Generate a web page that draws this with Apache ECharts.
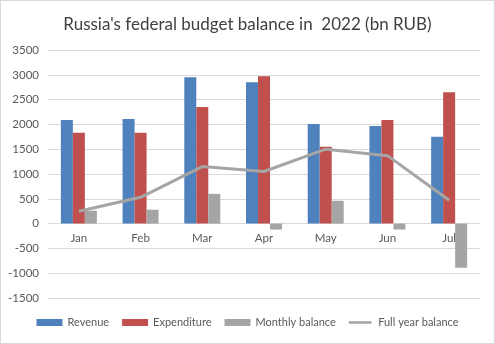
<!DOCTYPE html>
<html>
<head>
<meta charset="utf-8">
<script src="https://cdn.jsdelivr.net/npm/echarts@6/dist/echarts.min.js"></script>
<style>
  html, body { margin: 0; padding: 0; background: #fff; }
  #chart { width: 493px; height: 342px; border: 1px solid #d9d9d9; }
</style>
</head>
<body>
<div id="chart"></div>
<script>
// Russia's federal budget, monthly figures for 2022 (bn RUB)
const months = ['Jan', 'Feb', 'Mar', 'Apr', 'May', 'Jun', 'Jul'];
const revenue = [2090, 2110, 2950, 2850, 2010, 1970, 1750];
const expenditure = [1830, 1830, 2350, 2970, 1550, 2090, 2650];
const monthlyBalance = [260, 280, 600, -120, 460, -120, -890];
const fullYearBalance = [250, 530, 1150, 1050, 1500, 1370, 470];

const font = 'Lato, Open Sans, sans-serif';
const gridTop = 49, gridBottom = 45, chartHeight = 342;
const yMin = -1500, yMax = 3500;
// distance from the bottom of the grid up to the zero line
const zeroOffset = (chartHeight - gridTop - gridBottom) * (0 - yMin) / (yMax - yMin);

const chart = echarts.init(document.getElementById('chart'));
chart.setOption({
  animation: false,
  title: {
    text: "Russia's federal budget balance in  2022 (bn RUB)",
    left: 'center',
    top: 10,
    textStyle: { fontFamily: font, fontSize: 17, fontWeight: 'normal', color: '#404040' }
  },
  legend: {
    bottom: 10,
    left: 'center',
    itemGap: 13,
    itemWidth: 26,
    itemHeight: 7,
    textStyle: { fontFamily: font, fontSize: 11, color: '#595959' },
    data: [
      { name: 'Revenue', icon: 'rect' },
      { name: 'Expenditure', icon: 'rect' },
      { name: 'Monthly balance', icon: 'rect' },
      { name: 'Full year balance',
        icon: 'path://M0,0L0.01,0M0,2.5L26,2.5L26,5.5L0,5.5ZM0,8L0.01,8' }
    ]
  },
  grid: { left: 47, right: 14, top: gridTop, bottom: gridBottom },
  xAxis: {
    type: 'category',
    data: months,
    offset: -zeroOffset,
    axisLine: { onZero: false, lineStyle: { color: '#d9d9d9' } },
    axisTick: { show: false },
    axisLabel: { fontFamily: font, fontSize: 11.5, color: '#595959', margin: 9 }
  },
  yAxis: {
    type: 'value',
    min: yMin,
    max: yMax,
    interval: 500,
    axisLine: { show: false },
    axisTick: { show: false },
    axisLabel: { fontFamily: font, fontSize: 11.5, color: '#595959', margin: 9,
      formatter: v => String(v) },
    splitLine: { lineStyle: { color: '#d9d9d9' } }
  },
  series: [
    { name: 'Revenue', type: 'bar', data: revenue, barWidth: 12, barGap: '0%',
      itemStyle: { color: '#4f81bd' } },
    { name: 'Expenditure', type: 'bar', data: expenditure, barWidth: 12, barGap: '0%',
      itemStyle: { color: '#c0504d' } },
    { name: 'Monthly balance', type: 'bar', data: monthlyBalance, barWidth: 12, barGap: '0%',
      itemStyle: { color: '#a5a5a5' } },
    { name: 'Full year balance', type: 'line', data: fullYearBalance,
      symbol: 'none', lineStyle: { color: '#a5a5a5', width: 3 },
      itemStyle: { color: '#a5a5a5' }, z: 5 }
  ]
});
</script>
</body>
</html>
